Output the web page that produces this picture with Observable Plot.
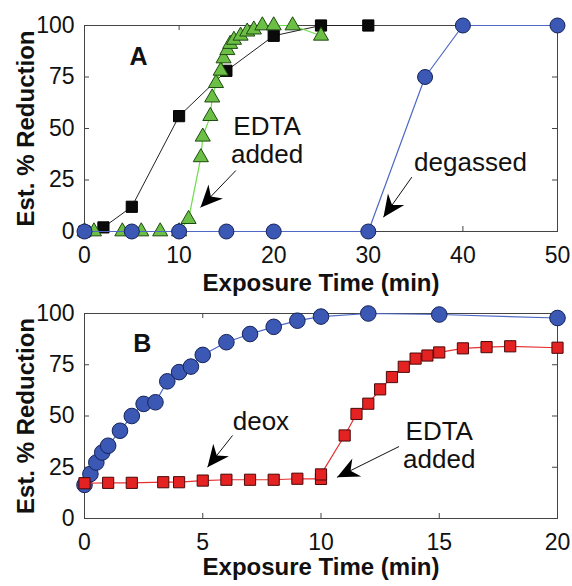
<!DOCTYPE html>
<html><head><meta charset="utf-8">
<script src="https://cdn.jsdelivr.net/npm/d3@7"></script>
<script src="https://cdn.jsdelivr.net/npm/@observablehq/plot@0.6"></script>
<style>
body{margin:0;background:#fff}
#chart svg{display:block}
</style>
</head><body><div id="chart"></div>
<script>
// ---------- Panel A data ----------
const aXTicks = [0, 10, 20, 30, 40, 50];
const yTicks = [0, 25, 50, 75, 100];
const aSquareX = [0, 2, 5, 10, 15, 20, 25, 30];
const aSquareY = [0, 2, 12, 56, 78, 95, 100, 100];
const aTriX = [0, 1, 4, 6, 8, 10, 11, 12.3, 12.5, 13.3, 13.5, 13.9, 14.4, 14.7, 15.1, 15.4, 15.8, 16.5, 17.2, 17.9, 18.8, 20, 22, 25];
const aTriY = [0, 0, 0, 0, 0, 0, 6, 36, 46, 56, 65, 72, 78, 84, 88, 91, 93, 95, 97, 98, 100, 100, 100, 95];
const aCircX = [0, 5, 10, 15, 20, 30, 36, 40, 50];
const aCircY = [0, 0, 0, 0, 0, 0, 75, 100, 100];
const aLetter = {x: 5.7, y: 84.5, text: "A"};
const aNotes = [
  {x: 19.3, y: 50.8, text: "EDTA"},
  {x: 19.3, y: 37.2, text: "added"},
  {x: 40.8, y: 33.6, text: "degassed"}
];
const aArrows = [
  {x1: 16.0, y1: 29.6, x2: 12.26, y2: 11.7},
  {x1: 34.6, y1: 26.4, x2: 31.6, y2: 6.9}
];

// ---------- Panel B data ----------
const bXTicks = [0, 5, 10, 15, 20];
const bCircX = [0, 0.25, 0.5, 0.75, 1, 1.5, 2, 2.5, 3, 3.5, 4, 4.5, 5, 6, 7, 8, 9, 10, 12, 15, 20];
const bCircY = [16.4, 21.7, 27.3, 32.2, 35.5, 42.8, 50, 55.9, 56.7, 66.9, 71.4, 74.1, 79.8, 86, 90, 93.5, 96.5, 98.5, 100, 99.5, 97.8];
const bSqX = [0, 1, 2, 3.33, 4, 5, 6, 7, 8, 9, 10, 10, 11, 11.5, 12, 12.5, 13, 13.5, 14, 14.5, 15, 16, 17, 18, 20];
const bSqY = [17.2, 17.4, 17.4, 17.7, 17.7, 18.5, 18.9, 18.9, 18.9, 19.4, 19.3, 21.5, 40.5, 51, 56, 63, 69, 74, 78, 79.5, 81, 83, 83.6, 84, 83.3];
const bLetter = {x: 2.44, y: 85.2, text: "B"};
const bNotes = [
  {x: 7.46, y: 47, text: "deox"},
  {x: 15.0, y: 42.5, text: "EDTA"},
  {x: 15.0, y: 28.5, text: "added"}
];
const bArrows = [
  {x1: 6.26, y1: 40.5, x2: 5.2, y2: 25},
  {x1: 13.3, y1: 35.1, x2: 10.68, y2: 20.1}
];

const xLabel = "Exposure Time (min)";
const yLabel = "Est. % Reduction";
const FONT = "'Liberation Sans', Arial, Helvetica, sans-serif";

const zip = (xs, ys) => xs.map((x, i) => ({x, y: ys[i]}));

// arrowhead symbol pointing up (tip at origin)
const arrowHead = {
  draw(ctx) {
    ctx.moveTo(0, 0);
    ctx.lineTo(10, 22);
    ctx.lineTo(0, 15);
    ctx.lineTo(-10, 22);
    ctx.closePath();
  }
};

function makePanel(cfg, angles) {
  const W = 572;
  const mL = 84, mR = 15;
  const frameH = cfg.height - cfg.marginTop - cfg.marginBottom;
  const frameW = W - mL - mR;
  const heads = cfg.arrows.map((a, i) => ({x: a.x2, y: a.y2, angle: angles ? angles[i] : 0}));
  return Plot.plot({
    width: W,
    height: cfg.height,
    marginLeft: mL,
    marginRight: mR,
    marginTop: cfg.marginTop,
    marginBottom: cfg.marginBottom,
    style: {fontFamily: FONT, color: "#111", background: "white"},
    x: {domain: cfg.xDomain},
    y: {domain: [0, 100]},
    marks: [
      Plot.frame({stroke: "#444", strokeWidth: 1}),
      // inward ticks on all four sides
      Plot.tickX(cfg.xTicks, {x: d => d, insetTop: frameH - 5, stroke: "#444"}),
      Plot.tickX(cfg.xTicks, {x: d => d, insetBottom: frameH - 5, stroke: "#444"}),
      Plot.tickY(yTicks, {y: d => d, insetRight: frameW - 5, stroke: "#444"}),
      Plot.tickY(yTicks, {y: d => d, insetLeft: frameW - 5, stroke: "#444"}),
      Plot.axisX(cfg.xTicks, {tickSize: 0, tickPadding: 15, fontSize: 23, label: null}),
      Plot.axisY(yTicks, {tickSize: 0, tickPadding: 10, fontSize: 23, label: null}),
      Plot.text([xLabel], {frameAnchor: "bottom", dy: cfg.xLabelDy, textAnchor: "middle", fontSize: 24, fontWeight: "bold", text: d => d, fill: "#111"}),
      Plot.text([yLabel], {frameAnchor: "left", dx: -58, rotate: -90, textAnchor: "middle", fontSize: 24, fontWeight: "bold", text: d => d, fill: "#111"}),
      ...cfg.series,
      Plot.text([cfg.letter], {x: "x", y: "y", text: "text", fontSize: 25, fontWeight: "bold", fill: "#111"}),
      Plot.text(cfg.notes, {x: "x", y: "y", text: "text", fontSize: 26, fill: "#111"}),
      Plot.link(cfg.arrows, {x1: "x1", y1: "y1", x2: "x2", y2: "y2", stroke: "#111", strokeWidth: 1}),
      Plot.dot(heads, {x: "x", y: "y", symbol: arrowHead, rotate: "angle", fill: "#000", stroke: "none", r: 5})
    ]
  });
}

function build(cfg) {
  const first = makePanel(cfg, null);
  const sx = first.scale("x"), sy = first.scale("y");
  const angles = cfg.arrows.map(a => {
    const dx = sx.apply(a.x2) - sx.apply(a.x1);
    const dy = sy.apply(a.y2) - sy.apply(a.y1);
    return Math.atan2(dx, -dy) * 180 / Math.PI;
  });
  return makePanel(cfg, angles);
}

const dotOpts = (fill, stroke, symbol, r) => ({x: "x", y: "y", fill, stroke, strokeWidth: 1, symbol, r});

const panelA = build({
  height: 300, marginTop: 25, marginBottom: 69, xLabelDy: 59,
  xDomain: [0, 50], xTicks: aXTicks,
  letter: aLetter, notes: aNotes, arrows: aArrows,
  series: [
    Plot.line(zip(aSquareX, aSquareY), {x: "x", y: "y", stroke: "#222", strokeWidth: 1}),
    Plot.dot(zip(aSquareX, aSquareY), dotOpts("#0a0a0a", "#000", "square", 6.3)),
    Plot.line(zip(aTriX, aTriY), {x: "x", y: "y", stroke: "#6fdc4a", strokeWidth: 1.2}),
    Plot.dot(zip(aTriX, aTriY), dotOpts("#6cbf45", "#1f4a12", "triangle", 5.6)),
    Plot.line(zip(aCircX, aCircY), {x: "x", y: "y", stroke: "#4e68c4", strokeWidth: 1.2}),
    Plot.dot(zip(aCircX, aCircY), dotOpts("#3a58b4", "#15235a", "circle", 7.5))
  ]
});

const panelB = build({
  height: 286, marginTop: 13, marginBottom: 68, xLabelDy: 56,
  xDomain: [0, 20], xTicks: bXTicks,
  letter: bLetter, notes: bNotes, arrows: bArrows,
  series: [
    Plot.line(zip(bCircX, bCircY), {x: "x", y: "y", stroke: "#4e68c4", strokeWidth: 1.2}),
    Plot.dot(zip(bCircX, bCircY), dotOpts("#3a58b4", "#15235a", "circle", 7.8)),
    Plot.line(zip(bSqX, bSqY), {x: "x", y: "y", stroke: "#e53030", strokeWidth: 1.2}),
    Plot.dot(zip(bSqX, bSqY), dotOpts("#e52222", "#4a0808", "square", 6.3))
  ]
});

const root = document.getElementById("chart");
root.appendChild(panelA);
root.appendChild(panelB);
</script>
</body></html>
